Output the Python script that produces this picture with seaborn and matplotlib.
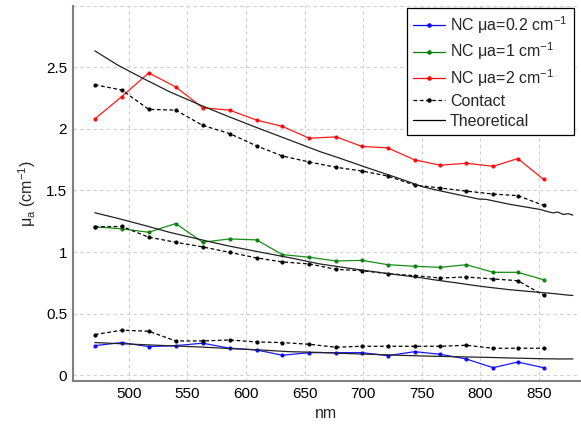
import matplotlib
matplotlib.use("Agg")
import matplotlib.pyplot as plt
import seaborn as sns
import pandas as pd
from matplotlib.lines import Line2D

# ---- data ----
wavelengths = [471, 494, 517, 540, 563, 586, 609, 631, 654, 677, 699, 721, 744, 766, 788, 811, 832, 854]

nc_02 = [0.241, 0.266, 0.233, 0.241, 0.261, 0.220, 0.206, 0.163, 0.184, 0.184,
         0.184, 0.160, 0.192, 0.171, 0.133, 0.062, 0.108, 0.062]
nc_1 = [1.205, 1.189, 1.161, 1.232, 1.080, 1.107, 1.099, 0.980, 0.958, 0.928,
        0.933, 0.898, 0.885, 0.876, 0.898, 0.836, 0.836, 0.776]
nc_2 = [2.081, 2.262, 2.454, 2.340, 2.171, 2.152, 2.071, 2.020, 1.924, 1.935,
        1.857, 1.846, 1.748, 1.705, 1.721, 1.696, 1.759, 1.590]

contact_02 = [0.331, 0.366, 0.358, 0.279, 0.279, 0.287, 0.271, 0.266, 0.252, 0.228,
              0.236, 0.236, 0.236, 0.236, 0.244, 0.220, 0.220, 0.220]
contact_1 = [1.205, 1.208, 1.121, 1.080, 1.042, 0.998, 0.953, 0.920, 0.904, 0.860,
             0.849, 0.825, 0.809, 0.790, 0.798, 0.782, 0.768, 0.651]
contact_2 = [2.358, 2.315, 2.158, 2.152, 2.028, 1.962, 1.862, 1.780, 1.731, 1.688,
             1.658, 1.617, 1.544, 1.520, 1.495, 1.471, 1.458, 1.379]

theo_wl = [471, 490, 512, 535, 561, 585, 612, 637, 663, 680, 703, 730, 751, 760,
           780, 799, 805, 825, 851, 857, 862, 866, 871, 875, 879]
theo_02 = [0.266, 0.258, 0.249, 0.240, 0.230, 0.218, 0.206, 0.192, 0.186, 0.179,
           0.172, 0.163, 0.157, 0.155, 0.151, 0.147, 0.146, 0.141, 0.135, 0.134,
           0.134, 0.133, 0.133, 0.133, 0.133]
theo_1 = [1.319, 1.275, 1.220, 1.160, 1.102, 1.050, 1.000, 0.955, 0.904, 0.880,
          0.849, 0.815, 0.790, 0.776, 0.750, 0.724, 0.717, 0.695, 0.673, 0.668,
          0.664, 0.660, 0.655, 0.651, 0.648]
theo_2 = [2.633, 2.520, 2.410, 2.300, 2.193, 2.100, 2.000, 1.910, 1.816, 1.762,
          1.686, 1.600, 1.530, 1.509, 1.468, 1.430, 1.428, 1.388, 1.346, 1.330,
          1.318, 1.325, 1.305, 1.312, 1.300]

labels = ["NC \u03bca=0.2 cm$^{-1}$", "NC \u03bca=1 cm$^{-1}$", "NC \u03bca=2 cm$^{-1}$",
          "Contact", "Theoretical"]
xticks = [500, 550, 600, 650, 700, 750, 800, 850]
yticks = [0, 0.5, 1, 1.5, 2, 2.5, 3]
ytick_labels = ["0", "0.5", "1", "1.5", "2", "2.5", ""]

# ---- style ----
sns.set_theme(style="whitegrid")
plt.rcParams["font.family"] = ["Liberation Sans", "DejaVu Sans"]
plt.rcParams["mathtext.default"] = "regular"
plt.rcParams["font.size"] = 11

fig = plt.figure(figsize=(5.81, 4.25), dpi=100)
ax = fig.add_axes([0.125, 0.1035, 0.873, 0.8833])

MS = 4.5
nc_colors = ["#0000ff", "#008000", "#ff0000"]
for vals, col in zip([nc_02, nc_1, nc_2], nc_colors):
    sns.lineplot(x=wavelengths, y=vals, ax=ax, color=col, lw=0.9, marker=".",
                 markersize=MS, mec=col, mfc=col, sort=False, alpha=0.9)

for vals in [contact_02, contact_1, contact_2]:
    sns.lineplot(x=wavelengths, y=vals, ax=ax, color="black", lw=0.9, marker=".",
                 markersize=MS, mec="black", mfc="black", dashes=False, sort=False,
                 linestyle=(0, (3, 2)))

for vals in [theo_02, theo_1, theo_2]:
    sns.lineplot(x=theo_wl, y=vals, ax=ax, color="#222222", lw=0.9, sort=False)

ax.set_xlim(452, 885)
ax.set_ylim(-0.046, 3.0)
ax.set_xticks(xticks)
ax.set_yticks(yticks)
ax.set_yticklabels(ytick_labels)
ax.tick_params(axis="both", labelsize=11, colors="black", direction="in",
               length=3, width=0.8, pad=4)
ax.tick_params(axis="both", color="#808080")

ax.grid(True, linestyle=(0, (3, 3)), color="#cfcfcf", lw=0.8)
ax.set_facecolor("white")
for s in ["top", "right"]:
    ax.spines[s].set_visible(False)
for s in ["left", "bottom"]:
    ax.spines[s].set_color("#808080")
    ax.spines[s].set_linewidth(1.5)

ax.set_xlabel("nm", fontsize=11.5, labelpad=4)
ax.set_ylabel("\u03bc$_a$ (cm$^{-1}$)", fontsize=11.5, labelpad=6)

handles = [
    Line2D([], [], color=nc_colors[0], lw=0.9, marker=".", markersize=MS),
    Line2D([], [], color=nc_colors[1], lw=0.9, marker=".", markersize=MS),
    Line2D([], [], color=nc_colors[2], lw=0.9, marker=".", markersize=MS),
    Line2D([], [], color="black", lw=0.9, marker=".", markersize=MS, linestyle=(0, (3, 2))),
    Line2D([], [], color="black", lw=0.9),
]
leg = ax.legend(handles, labels, loc="upper right", bbox_to_anchor=(0.988, 0.994),
                borderaxespad=0, fancybox=False, framealpha=1, edgecolor="black",
                fontsize=11.5, handlelength=2.0, handletextpad=0.3, labelspacing=0.3,
                borderpad=0.4)
leg.get_frame().set_linewidth(0.9)

fig.savefig("out.png", dpi=100, facecolor="white")
